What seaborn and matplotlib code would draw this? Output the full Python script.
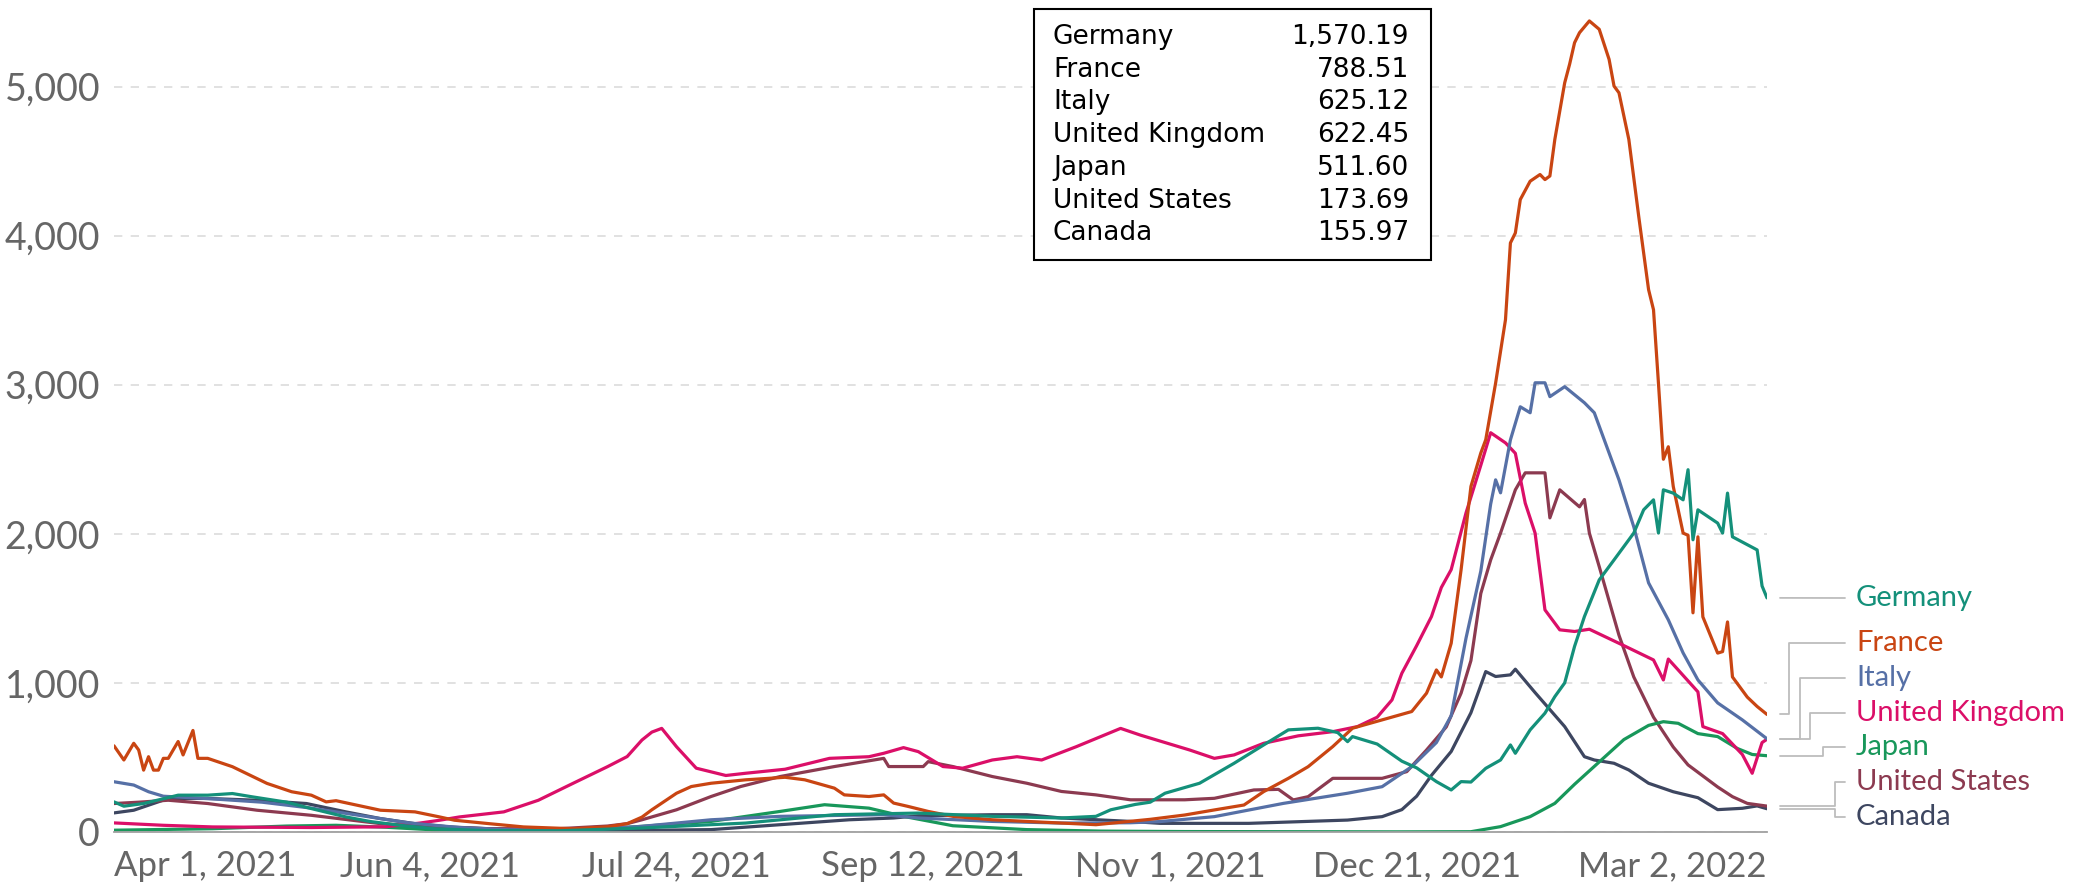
import numpy as np
import pandas as pd
import matplotlib
matplotlib.use("Agg")
import matplotlib.pyplot as plt
import matplotlib.dates as mdates
from matplotlib.patches import Rectangle
from matplotlib.lines import Line2D
import seaborn as sns

# ---------------- data ----------------
START = "2021-04-01"
END = "2022-03-02"
countries = ["Germany", "France", "Italy", "United Kingdom", "Japan", "United States", "Canada"]
latest_values = [1570.19, 788.51, 625.12, 622.45, 511.60, 173.69, 155.97]

germany_days = [0, 2, 6, 13, 19, 24, 28, 35, 40, 47, 52, 58, 65, 75, 90, 107, 128, 146, 163, 178,
                192, 199, 202, 207, 210, 213, 220, 227, 233, 238, 244, 248, 250, 251, 256, 261, 264, 268, 271, 273,
                275, 278, 281, 283, 284, 287, 290, 292, 294, 296, 298, 301, 304, 308, 310, 312, 313, 314, 316, 318,
                319, 320, 321, 325, 326, 327, 328, 333, 334, 335]
germany_vals = [202, 173, 191, 247, 247, 258, 236, 200, 157, 101, 70, 45, 22, 10, 8, 27, 60, 116, 127, 105,
                94, 105, 149, 185, 200, 260, 327, 461, 584, 685, 696, 667, 606, 640, 590, 475, 430, 338, 282, 338,
                335, 427, 483, 584, 528, 685, 797, 908, 1000, 1245, 1445, 1691, 1825, 2005, 2161, 2228, 2005, 2295, 2273, 2228,
                2430, 1960, 2161, 2072, 2005, 2273, 1980, 1892, 1650, 1570.19]

france_days = [0, 2, 4, 5, 6, 7, 8, 9, 10, 11, 13, 14, 16, 17, 19, 24, 31, 36, 40, 43,
               45, 54, 61, 66, 69, 76, 83, 93, 100, 104, 107, 109, 114, 117, 121, 128, 136, 140, 146, 148,
               153, 156, 158, 161, 165, 170, 178, 192, 199, 210, 217, 223, 229, 233, 238, 242, 247, 251, 257, 263,
               266, 268, 269, 271, 273, 275, 277, 278, 280, 282, 283, 284, 285, 287, 289, 290, 291, 292, 294, 295,
               296, 297, 299, 301, 303, 304, 305, 307, 309, 311, 312, 313, 314, 315, 316, 318, 319, 320, 321, 322,
               325, 326, 327, 328, 331, 333, 335]
france_vals = [578, 483, 595, 550, 415, 505, 415, 415, 494, 494, 607, 517, 681, 494, 494, 438, 326, 270, 247, 202,
               210, 146, 135, 101, 79, 56, 34, 22, 35, 56, 100, 149, 260, 305, 327, 350, 367, 350, 294, 249,
               238, 249, 194, 171, 138, 105, 82, 60, 49, 85, 114, 148, 181, 271, 360, 438, 573, 696, 752, 808,
               931, 1087, 1040, 1266, 1758, 2318, 2542, 2631, 3011, 3436, 3951, 4018, 4242, 4365, 4410, 4376, 4400, 4645, 5025, 5150,
               5294, 5361, 5440, 5384, 5182, 5003, 4958, 4645, 4130, 3638, 3503, 3011, 2500, 2584, 2318, 2005, 1990, 1470, 1980, 1443,
               1200, 1210, 1409, 1040, 905, 842, 788.51]

italy_days = [0, 4, 7, 10, 20, 30, 40, 50, 60, 70, 80, 95, 107, 121, 135, 156, 163, 178, 192, 206,
              212, 223, 237, 250, 257, 263, 268, 271, 274, 277, 279, 280, 281, 283, 285, 287, 288, 290, 291, 294,
              298, 300, 305, 308, 311, 315, 318, 321, 325, 330, 335]
italy_vals = [337, 315, 270, 240, 222, 200, 160, 110, 60, 30, 15, 12, 38, 82, 105, 116, 94, 71, 60, 62,
              70, 103, 192, 260, 304, 438, 600, 780, 1300, 1750, 2200, 2362, 2275, 2630, 2852, 2812, 3013, 3013, 2920, 2987,
              2879, 2812, 2362, 2047, 1671, 1423, 1201, 1020, 866, 752, 625.12]

uk_days = [0, 10, 20, 40, 55, 62, 66, 70, 79, 86, 93, 100, 104, 107, 109, 111, 114, 118, 124, 128,
           136, 145, 153, 156, 160, 163, 168, 172, 178, 183, 188, 195, 204, 208, 212, 218, 223, 227, 233, 240,
           247, 252, 256, 259, 261, 264, 267, 269, 271, 274, 277, 279, 282, 284, 286, 288, 290, 293, 296, 299,
           306, 312, 314, 315, 317, 321, 322, 326, 330, 332, 334, 335]
uk_vals = [61, 45, 34, 30, 35, 60, 79, 101, 135, 213, 326, 438, 506, 617, 670, 695, 572, 428, 379, 394,
           421, 494, 505, 528, 566, 539, 439, 428, 483, 505, 483, 572, 695, 650, 610, 550, 494, 517, 595, 645,
           673, 707, 770, 886, 1065, 1250, 1445, 1640, 1760, 2140, 2460, 2678, 2610, 2540, 2206, 2005, 1490, 1356, 1345, 1360,
           1250, 1154, 1020, 1160, 1087, 940, 707, 660, 520, 394, 600, 622.45]

japan_days = [0, 20, 35, 45, 55, 65, 80, 95, 107, 121, 135, 144, 153, 160, 170, 185, 200, 217, 260, 275,
              281, 287, 292, 296, 301, 306, 311, 314, 317, 321, 325, 329, 332, 335]
japan_vals = [12, 22, 40, 45, 32, 14, 10, 14, 38, 71, 138, 183, 160, 105, 42, 16, 6, 3, 1, 2,
              36, 103, 192, 320, 470, 620, 715, 740, 729, 660, 640, 560, 520, 511.60]

us_days = [0, 5, 11, 19, 29, 40, 54, 65, 76, 90, 100, 104, 107, 114, 121, 127, 135, 146, 156, 157,
           164, 165, 170, 178, 185, 192, 199, 206, 217, 223, 231, 236, 239, 242, 247, 257, 262, 266, 270, 273,
           275, 277, 279, 281, 284, 286, 290, 291, 293, 297, 298, 299, 301, 305, 308, 312, 316, 319, 325, 328,
           331, 335]
us_vals = [191, 200, 213, 191, 146, 112, 56, 34, 22, 22, 40, 56, 82, 149, 238, 305, 372, 439, 494, 439,
           439, 472, 439, 372, 327, 272, 249, 216, 216, 226, 282, 286, 215, 237, 360, 360, 405, 550, 705, 931,
           1150, 1600, 1825, 2005, 2295, 2409, 2409, 2107, 2295, 2181, 2230, 2005, 1780, 1320, 1040, 770, 570, 450, 302, 237,
           192, 173.69]

canada_days = [0, 4, 11, 19, 29, 39, 47, 54, 61, 68, 76, 90, 107, 121, 135, 149, 158, 163, 178, 185,
               192, 206, 212, 230, 250, 257, 261, 264, 267, 271, 275, 278, 280, 283, 284, 288, 294, 298, 300, 304,
               307, 311, 316, 321, 325, 330, 333, 335]
canada_vals = [128, 146, 225, 225, 213, 191, 135, 90, 56, 34, 22, 7, 11, 16, 49, 82, 94, 109, 116, 116,
               94, 71, 58, 58, 80, 103, 150, 240, 380, 540, 800, 1076, 1043, 1054, 1092, 935, 707, 505, 483, 461,
               416, 327, 270, 230, 150, 159, 175, 155.97]

tick_dates = ["2021-04-01", "2021-06-04", "2021-07-24", "2021-09-12", "2021-11-01", "2021-12-21", "2022-03-02"]
tick_labels = ["Apr 1, 2021", "Jun 4, 2021", "Jul 24, 2021", "Sep 12, 2021", "Nov 1, 2021", "Dec 21, 2021", "Mar 2, 2022"]
y_ticks = [0, 1000, 2000, 3000, 4000, 5000]

colors = {
    "Germany": "#14907A",
    "France": "#C94512",
    "Italy": "#5670A6",
    "United Kingdom": "#DB0F68",
    "Japan": "#18975A",
    "United States": "#8C3A50",
    "Canada": "#3D4660",
}

series = {
    "Germany": (germany_days, germany_vals),
    "France": (france_days, france_vals),
    "Italy": (italy_days, italy_vals),
    "United Kingdom": (uk_days, uk_vals),
    "Japan": (japan_days, japan_vals),
    "United States": (us_days, us_vals),
    "Canada": (canada_days, canada_vals),
}

start = pd.Timestamp(START)
frames = []
for c in countries:
    d, v = series[c]
    frames.append(pd.DataFrame({
        "date": start + pd.to_timedelta(np.array(d), unit="D"),
        "cases": np.array(v, dtype=float),
        "country": c,
    }))
df = pd.concat(frames, ignore_index=True)

# ---------------- figure ----------------
W, H = 2073, 886
sns.set_theme(style="white")
plt.rcParams["font.family"] = ["Lato", "DejaVu Sans"]

fig = plt.figure(figsize=(W / 100, H / 100), dpi=100)
fig.patch.set_facecolor("white")
ax_left, ax_right, ax_bottom_px, ax_top_px = 114, 1767, 832, 12
ax = fig.add_axes([ax_left / W, (H - ax_bottom_px) / H, (ax_right - ax_left) / W, (ax_bottom_px - ax_top_px) / H])

sns.lineplot(data=df, x="date", y="cases", hue="country", hue_order=countries[::-1],
             palette=colors, estimator=None, sort=True, linewidth=2.3, legend=False, ax=ax)

ax.set_xlim(pd.Timestamp(START), pd.Timestamp(END))
ax.set_ylim(0, 5500)
ax.set_xlabel("")
ax.set_ylabel("")

for s in ["top", "right", "left"]:
    ax.spines[s].set_visible(False)
ax.spines["bottom"].set_color("#a0a0a0")
ax.spines["bottom"].set_linewidth(1.3)

ax.set_xticks([pd.Timestamp(t) for t in tick_dates])
ax.set_xticklabels(tick_labels)
ax.tick_params(axis="x", length=9, width=1.2, color="#a0a0a0", labelsize=25, labelcolor="#666666", pad=4)
xt = ax.get_xticklabels()
xt[0].set_ha("left")
xt[-1].set_ha("right")

ax.set_yticks(y_ticks)
ax.set_yticklabels([f"{v:,}" for v in y_ticks])
ax.tick_params(axis="y", length=0, labelsize=27, labelcolor="#666666", pad=10)
ax.yaxis.grid(True, linestyle=(0, (5, 5)), color="#dcdcdc", linewidth=1.2)
ax.xaxis.grid(False)
ax.set_axisbelow(True)

# ---------------- end labels with connectors ----------------
label_y_px = [598, 643, 678, 713, 747, 782, 817]
bend_x_px = [None, 1789, 1800, 1810, 1823, 1835, 1835]
conn_start_px, conn_end_px, text_x_px = 1780, 1845, 1856

fig.canvas.draw()
end_x = mdates.date2num(pd.Timestamp(END))
for c, v, ly, bx in zip(countries, latest_values, label_y_px, bend_x_px):
    disp = ax.transData.transform((end_x, v))
    ey_px = H - disp[1]
    if bx is None:
        xs = [conn_start_px, conn_end_px]
        ys = [ey_px, ly]
    else:
        xs = [conn_start_px, bx, bx, conn_end_px]
        ys = [ey_px, ey_px, ly, ly]
    fig.add_artist(Line2D([x / W for x in xs], [1 - y / H for y in ys],
                          color="#bdbdbd", linewidth=1.3, transform=fig.transFigure))
    fig.text(text_x_px / W, 1 - ly / H, c, color=colors[c], fontsize=21,
             ha="left", va="center", family=["Lato", "DejaVu Sans"])

# ---------------- value box ----------------
bx0, by0, bx1, by1 = 1034, 9, 1431, 260
fig.add_artist(Rectangle((bx0 / W, 1 - by1 / H), (bx1 - bx0) / W, (by1 - by0) / H,
                         transform=fig.transFigure, facecolor="white", edgecolor="black",
                         linewidth=1.5, zorder=10))
row0, row_step = 37, 32.7
for i, (c, v) in enumerate(zip(countries, latest_values)):
    yy = 1 - (row0 + i * row_step) / H
    fig.text(1053 / W, yy, c, fontsize=19, ha="left", va="center", color="black",
             family=["DejaVu Sans"], zorder=11)
    fig.text(1409 / W, yy, f"{v:,.2f}", fontsize=19, ha="right", va="center", color="black",
             family=["DejaVu Sans"], zorder=11)

fig.savefig("out.png", dpi=100, facecolor="white")
